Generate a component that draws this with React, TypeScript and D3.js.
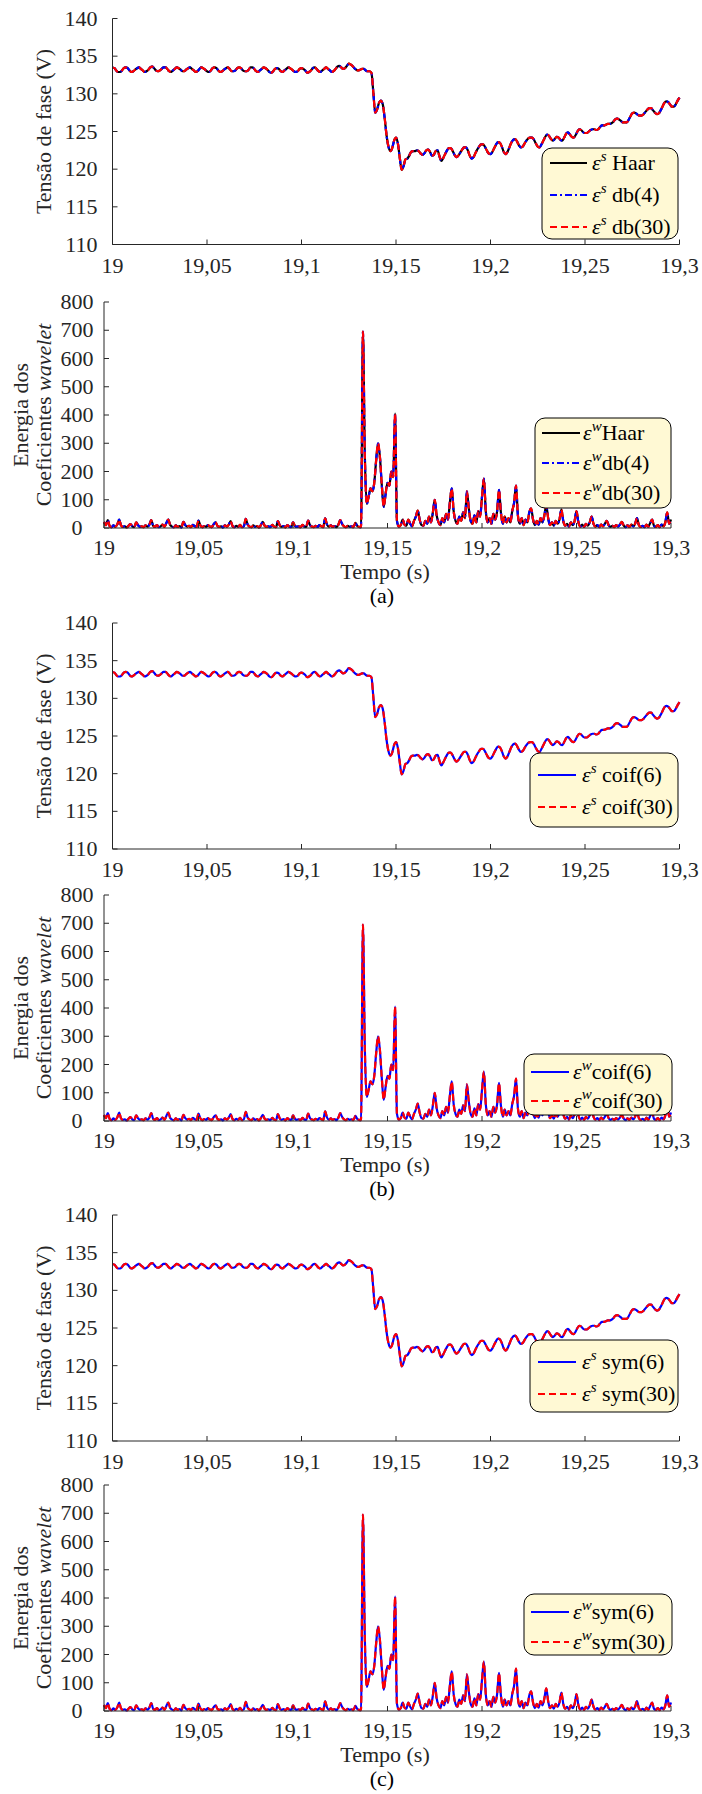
import React from "react";
import * as d3 from "d3";

// ---------------- DATA ----------------
const tempoInicio = 19.0;
const passo = 0.001; // s

// Tensão de fase (V), one sample per ms from 19.000 s to 19.300 s
const tensao: number[] = [
  133.5,133.4,133.1,132.9,132.9,133.1,133.4,133.5,133.4,133.1,
  132.9,133.0,133.2,133.4,133.5,133.3,133.1,132.9,133.0,133.2,
  133.5,133.6,133.4,133.1,133.0,133.1,133.3,133.5,133.5,133.3,
  133.0,132.9,133.1,133.3,133.5,133.4,133.2,133.0,133.0,133.2,
  133.4,133.5,133.3,133.1,132.9,133.0,133.3,133.5,133.4,133.2,
  133.0,132.9,133.1,133.4,133.5,133.4,133.1,132.9,133.0,133.2,
  133.4,133.5,133.3,133.0,133.0,133.1,133.4,133.5,133.4,133.1,
  133.0,133.0,133.2,133.5,133.5,133.3,133.0,132.9,133.1,133.3,
  133.5,133.4,133.2,132.9,132.8,133.0,133.3,133.4,133.3,133.0,
  132.9,133.1,133.3,133.5,133.4,133.2,133.0,132.9,133.0,133.3,
  133.4,133.3,133.1,132.8,132.9,133.1,133.4,133.5,133.3,133.0,
  132.9,133.1,133.3,133.5,133.3,133.1,132.9,133.0,133.3,133.6,
  133.7,133.5,133.3,133.4,133.7,134.0,133.9,133.7,133.4,133.2,
  133.1,133.2,133.3,133.3,133.1,133.0,133.0,132.8,130.2,127.5,
  127.9,128.8,129.1,128.6,126.8,124.5,123.0,122.4,122.8,123.8,
  124.2,123.4,121.5,119.9,120.4,121.3,121.4,121.8,122.3,122.4,
  122.4,122.5,122.4,122.1,121.9,122.1,122.5,122.6,122.3,121.8,
  121.9,122.4,122.5,121.7,121.1,121.5,122.0,122.5,122.8,122.8,
  122.4,121.9,121.6,121.8,122.2,122.6,122.9,122.9,122.5,121.8,
  121.4,121.6,122.1,122.6,123.0,123.3,123.3,123.0,122.5,122.1,
  122.0,122.3,122.8,123.3,123.6,123.5,123.0,122.3,122.0,122.3,
  122.9,123.5,123.9,124.0,123.7,123.2,122.9,123.0,123.4,123.8,
  124.1,124.2,124.2,123.9,123.4,123.0,122.9,123.3,123.8,124.3,
  124.6,124.4,124.0,123.8,124.0,124.3,124.2,123.9,123.8,124.2,
  124.7,124.9,124.6,124.3,124.2,124.5,125.0,125.3,125.2,124.9,
  124.8,124.8,125.0,125.2,125.3,125.3,125.2,125.3,125.6,125.8,
  125.8,125.9,126.0,126.0,126.1,126.3,126.6,126.7,126.6,126.4,
  126.2,126.2,126.2,126.5,127.0,127.4,127.5,127.4,127.2,127.1,
  127.1,127.3,127.6,127.9,128.1,128.1,127.8,127.5,127.3,127.4,
  127.8,128.3,128.8,129.0,128.9,128.6,128.3,128.3,128.6,129.1,
  129.5,
];

// Energia dos coeficientes wavelet, one sample per ms from 19.000 s to 19.300 s
const energia: number[] = [
  22,10,28,7,3,9,4,12,30,9,
  4,6,2,8,14,5,3,20,10,4,
  6,3,9,5,12,28,8,4,10,3,
  6,12,4,18,30,11,5,3,9,4,
  7,2,22,10,5,8,3,11,6,4,
  26,9,3,7,4,10,5,3,13,20,
  8,4,6,2,9,5,12,24,7,3,
  8,4,11,3,6,32,12,5,3,9,
  4,7,2,10,22,8,4,6,3,11,
  5,3,24,9,4,7,2,10,5,3,
  20,8,4,6,3,11,5,4,26,10,
  5,3,8,4,10,6,3,34,12,5,
  9,4,7,3,12,28,14,6,3,8,
  4,6,3,18,7,4,3,695,260,85,
  110,140,130,160,240,300,250,150,75,120,
  160,150,200,180,405,25,5,10,30,12,
  8,30,15,6,25,40,62,30,10,8,
  25,15,40,20,55,100,45,20,10,35,
  20,50,30,90,140,60,25,15,40,25,
  55,35,130,70,25,15,45,20,60,40,
  110,175,60,20,35,15,50,30,60,135,
  55,15,40,20,35,20,60,90,150,45,
  15,35,10,30,20,55,70,30,10,25,
  12,35,20,45,80,35,10,20,8,25,
  15,30,65,25,8,15,5,20,10,25,
  60,20,5,12,4,15,8,20,40,15,
  5,10,3,12,6,15,25,10,4,8,
  3,10,5,12,22,8,3,9,4,12,
  6,15,35,10,4,8,3,12,5,18,
  30,8,4,10,3,12,6,20,55,15,
  30,
];

const tempoTicks = [19, 19.05, 19.1, 19.15, 19.2, 19.25, 19.3];
const tempoTickLabels = ["19", "19,05", "19,1", "19,15", "19,2", "19,25", "19,3"];
const tensaoTicks = [110, 115, 120, 125, 130, 135, 140];
const energiaTicks = [0, 100, 200, 300, 400, 500, 600, 700, 800];

const wavA = ["Haar", "db(4)", "db(30)"];
const wavB = ["coif(6)", "coif(30)"];
const wavC = ["sym(6)", "sym(30)"];

// ---------------- STYLES ----------------
const FONT = "'Liberation Serif', 'Times New Roman', serif";
const FS = 22;
const PRETO = "#000000";
const AZUL = "#0000FF";
const VERMELHO = "#FF0000";
const FUNDO_LEG = "#FFF9D4";
const DASH = "7,4";
const DASHDOT = "7,3,2,3";

type Estilo = { cor: string; traco?: string };
const estilosA: Estilo[] = [{ cor: PRETO }, { cor: AZUL, traco: DASHDOT }, { cor: VERMELHO, traco: DASH }];
const estilosBC: Estilo[] = [{ cor: AZUL }, { cor: VERMELHO, traco: DASH }];

type Leg = { x: number; y: number; w: number; h: number; row0: number; step: number; l0: number; l1: number; tx: number };

type ChartProps = {
  x0: number; x1: number; y0: number; y1: number;
  dominio: [number, number]; ticks: number[]; valores: number[];
  nomes: string[]; estilos: Estilo[]; sup: string; sep: string; leg: Leg;
  tickX: number; tickAnchor: "end" | "middle"; labelDy: number;
};

function Chart(p: ChartProps) {
  const x = d3.scaleLinear().domain([19, 19.3]).range([p.x0, p.x1]);
  const y = d3.scaleLinear().domain(p.dominio).range([p.y1, p.y0]);
  const pts = p.valores.map((v, i) => [tempoInicio + i * passo, v] as [number, number]);
  const line = d3.line<[number, number]>().x((d) => x(d[0])).y((d) => y(d[1])).curve(d3.curveMonotoneX);
  const path = line(pts) || "";
  const L = p.leg;
  return (
    <g>
      {p.nomes.map((n, i) => (
        <path key={n} d={path} fill="none" stroke={p.estilos[i].cor} strokeWidth={2.2}
          strokeDasharray={p.estilos[i].traco} strokeLinejoin="round" />
      ))}
      <line x1={p.x0} x2={p.x0} y1={p.y0} y2={p.y1} stroke="#262626" strokeWidth={1} />
      <line x1={p.x0} x2={p.x1} y1={p.y1} y2={p.y1} stroke="#262626" strokeWidth={1} />
      {p.ticks.map((t) => (
        <g key={t}>
          <line x1={p.x0} x2={p.x0 + 5} y1={y(t)} y2={y(t)} stroke="#262626" />
          <text x={p.tickX} y={y(t) + 7} textAnchor={p.tickAnchor} fontSize={FS} fontFamily={FONT} fill="#262626">{t}</text>
        </g>
      ))}
      {tempoTicks.map((t, i) => (
        <g key={t}>
          <line x1={x(t)} x2={x(t)} y1={p.y1} y2={p.y1 - 5} stroke="#262626" />
          <text x={x(t)} y={p.y1 + p.labelDy} textAnchor="middle" fontSize={FS} fontFamily={FONT} fill="#262626">{tempoTickLabels[i]}</text>
        </g>
      ))}
      <rect x={L.x} y={L.y} width={L.w} height={L.h} rx={10} ry={10} fill={FUNDO_LEG} stroke="#000" strokeWidth={1} />
      {p.nomes.map((n, i) => {
        const ry = L.row0 + i * L.step;
        return (
          <g key={"l" + n}>
            <line x1={L.l0} x2={L.l1} y1={ry} y2={ry} stroke={p.estilos[i].cor} strokeWidth={2.2} strokeDasharray={p.estilos[i].traco} />
            <text x={L.tx} y={ry + 7} fontSize={FS} fontFamily={FONT} fill="#000">
              <tspan fontStyle="italic">ε</tspan>
              <tspan fontStyle="italic" fontSize={15} dy={-9}>{p.sup}</tspan>
              <tspan dy={9}>{p.sep + n}</tspan>
            </text>
          </g>
        );
      })}
    </g>
  );
}

function VoltChart({ y0, nomes, estilos, leg }: { y0: number; nomes: string[]; estilos: Estilo[]; leg: Leg }) {
  const y1 = y0 + 226;
  return (
    <g>
      <Chart x0={112.5} x1={679.5} y0={y0} y1={y1} dominio={[110, 140]} ticks={tensaoTicks} valores={tensao}
        nomes={nomes} estilos={estilos} sup="s" sep=" " leg={leg} tickX={97.5} tickAnchor="end" labelDy={28} />
      <text transform={`translate(43,${(y0 + y1) / 2}) rotate(-90)`} textAnchor="middle" dominantBaseline="central" fontSize={FS} fontFamily={FONT} fill="#262626">
        Tensão de fase (V)
      </text>
    </g>
  );
}

function EnergyChart({ y0, nomes, estilos, leg, letra }: { y0: number; nomes: string[]; estilos: Estilo[]; leg: Leg; letra: string }) {
  const y1 = y0 + 226;
  const cy = (y0 + y1) / 2;
  return (
    <g>
      <Chart x0={104} x1={671} y0={y0} y1={y1} dominio={[0, 800]} ticks={energiaTicks} valores={energia}
        nomes={nomes} estilos={estilos} sup="w" sep="" leg={leg} tickX={77} tickAnchor="middle" labelDy={27} />
      <text transform={`translate(20,${cy}) rotate(-90)`} textAnchor="middle" dominantBaseline="central" fontSize={FS} fontFamily={FONT} fill="#262626">
        Energia dos
      </text>
      <text transform={`translate(43,${cy}) rotate(-90)`} textAnchor="middle" dominantBaseline="central" fontSize={FS} fontFamily={FONT} fill="#262626">
        Coeficientes <tspan fontStyle="italic">wavelet</tspan>
      </text>
      <text x={385} y={y1 + 51} textAnchor="middle" fontSize={FS} fontFamily={FONT} fill="#262626">Tempo (s)</text>
      <text x={382} y={y1 + 75} textAnchor="middle" fontSize={FS} fontFamily={FONT} fill="#000">{letra}</text>
    </g>
  );
}

export default function App() {
  return (
    <svg width={702} height={1794} viewBox="0 0 702 1794" style={{ display: "block", position: "absolute", left: 0, top: 0, background: "#fff" }}>
      <rect x={0} y={0} width={702} height={1794} fill="#fff" />
      <VoltChart y0={18.5} nomes={wavA} estilos={estilosA}
        leg={{ x: 542, y: 148, w: 136, h: 91, row0: 163, step: 32, l0: 550, l1: 587, tx: 592 }} />
      <EnergyChart y0={302} nomes={wavA} estilos={estilosA} letra="(a)"
        leg={{ x: 535, y: 418, w: 136, h: 90, row0: 433, step: 30, l0: 542, l1: 580, tx: 583 }} />
      <VoltChart y0={623} nomes={wavB} estilos={estilosBC}
        leg={{ x: 530, y: 753, w: 148, h: 74, row0: 775, step: 32, l0: 538, l1: 576, tx: 582 }} />
      <EnergyChart y0={895} nomes={wavB} estilos={estilosBC} letra="(b)"
        leg={{ x: 524, y: 1054, w: 148, h: 61, row0: 1072, step: 29, l0: 531, l1: 569, tx: 573 }} />
      <VoltChart y0={1215} nomes={wavC} estilos={estilosBC}
        leg={{ x: 530, y: 1340, w: 148, h: 72, row0: 1362, step: 32, l0: 538, l1: 576, tx: 582 }} />
      <EnergyChart y0={1485} nomes={wavC} estilos={estilosBC} letra="(c)"
        leg={{ x: 524, y: 1594, w: 148, h: 61, row0: 1612, step: 30, l0: 531, l1: 569, tx: 573 }} />
    </svg>
  );
}
